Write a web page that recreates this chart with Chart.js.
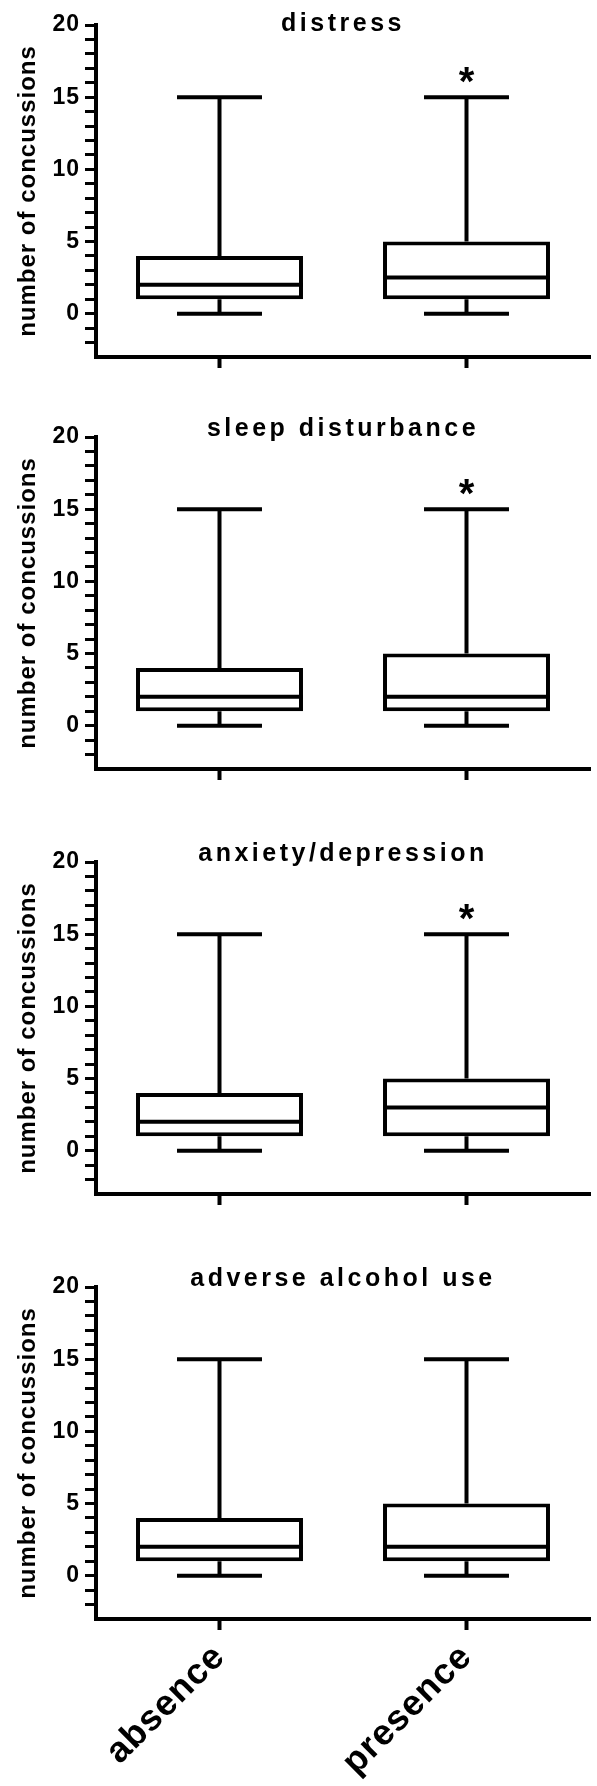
<!DOCTYPE html>
<html>
<head>
<meta charset="utf-8">
<script src="https://cdn.jsdelivr.net/npm/chart.js@4.4.1/dist/chart.umd.min.js"></script>
<style>
html,body{margin:0;padding:0;background:#fff;overflow:hidden;}
body{width:597px;height:1786px;position:relative;}
canvas{position:absolute;left:0;}
</style>
</head>
<body>

<canvas id="c0" width="597" height="376" style="top:-2px"></canvas>
<canvas id="c1" width="597" height="376" style="top:410px"></canvas>
<canvas id="c2" width="597" height="376" style="top:835px"></canvas>
<canvas id="c3" width="597" height="526" style="top:1260px"></canvas>

<script>

/* -------- DATA -------- */

const panelTitles = ["distress", "sleep disturbance", "anxiety/depression", "adverse alcohol use"];

const groups = ["absence", "presence"];

const whiskerLow  = [[0, 0], [0, 0], [0, 0], [0, 0]];
const quartile1   = [[1, 1], [1, 1], [1, 1], [1, 1]];
const medians     = [[2, 2.5], [2, 2], [2, 3], [2, 2]];
const quartile3   = [[4, 5], [4, 5], [4, 5], [4, 5]];
const whiskerHigh = [[15, 15], [15, 15], [15, 15], [15, 15]];

const significant = [[false, true], [false, true], [false, true], [false, false]];

const yMin = -3;
const yMax = 20;
const yLabelStep = 5;

const yTitle = "number of concussions";


/* -------- LAYOUT -------- */

const AREA_TOP = 27;
const AREA_H = 332;
const AXIS_W = 96;
const titlePad = [
{top: 14, bottom: -12},
{top: 7, bottom: -5},
{top: 7, bottom: -5},
{top: 7, bottom: -5}
];

Chart.defaults.font.family = "'Liberation Sans', Arial, sans-serif";
Chart.defaults.color = "#000";


/* -------- BOX PLOT PLUGIN -------- */

const boxPlot = {

id: "boxPlot",

beforeDraw(chart){
// chart title gets a little spacing, like the original
chart.ctx.letterSpacing = "3.5px";
},

beforeDatasetsDraw(chart){
chart.ctx.letterSpacing = "0px";
},

afterDatasetsDraw(chart, args, opts){

const k = opts.panel;
const ctx = chart.ctx;
const x = chart.scales.x;
const y = chart.scales.y;
const meta = chart.getDatasetMeta(0);
const capHalf = (x.width / groups.length) * 0.344 / 2;

ctx.save();
ctx.strokeStyle = "#000";
ctx.lineWidth = 4;
ctx.lineCap = "butt";

meta.data.forEach((bar, i) => {

const cx = x.getPixelForValue(i);
const half = bar.width / 2;

ctx.beginPath();

// median
ctx.moveTo(cx - half, y.getPixelForValue(medians[k][i]));
ctx.lineTo(cx + half, y.getPixelForValue(medians[k][i]));

// whiskers
ctx.moveTo(cx, y.getPixelForValue(quartile3[k][i]));
ctx.lineTo(cx, y.getPixelForValue(whiskerHigh[k][i]));
ctx.moveTo(cx, y.getPixelForValue(quartile1[k][i]));
ctx.lineTo(cx, y.getPixelForValue(whiskerLow[k][i]));

// caps
ctx.moveTo(cx - capHalf, y.getPixelForValue(whiskerHigh[k][i]));
ctx.lineTo(cx + capHalf, y.getPixelForValue(whiskerHigh[k][i]));
ctx.moveTo(cx - capHalf, y.getPixelForValue(whiskerLow[k][i]));
ctx.lineTo(cx + capHalf, y.getPixelForValue(whiskerLow[k][i]));

ctx.stroke();

if(significant[k][i]){
ctx.fillStyle = "#000";
ctx.font = "bold 40px 'Liberation Sans', Arial, sans-serif";
ctx.textAlign = "center";
ctx.textBaseline = "alphabetic";
ctx.fillText("*", cx, y.getPixelForValue(whiskerHigh[k][i]) - 2);
}

});

ctx.restore();

// axis titles and tick labels are drawn after this
ctx.letterSpacing = "1px";

},

afterDraw(chart){
chart.ctx.letterSpacing = "0px";
}

};


/* -------- CHARTS -------- */

function drawPanel(k){

const canvas = document.getElementById("c" + k);
const xAxisH = canvas.height - AREA_TOP - AREA_H;
const lastPanel = k === panelTitles.length - 1;

new Chart(canvas, {

type: "bar",

data: {
labels: groups,
datasets: [{
data: groups.map((g, i) => [quartile1[k][i], quartile3[k][i]]),
backgroundColor: "#fff",
borderColor: "#000",
borderWidth: 4,
borderSkipped: false,
barPercentage: 0.676,
categoryPercentage: 1
}]
},

options: {
responsive: false,
animation: false,
events: [],
layout: {padding: {left: 0, right: 7, top: 0, bottom: 0}},
plugins: {
legend: {display: false},
tooltip: {enabled: false},
title: {
display: true,
text: panelTitles[k],
fullSize: false,
color: "#000",
font: {size: 25, weight: "bold", lineHeight: 1},
padding: titlePad[k]
},
boxPlot: {panel: k}
},
scales: {
x: {
offset: true,
grid: {
offset: false,
drawOnChartArea: false,
tickLength: 11,
tickWidth: 4,
tickColor: "#000"
},
border: {display: true, width: 4, color: "#000"},
ticks: {
display: lastPanel,
z: 1,
color: "#000",
padding: 6,
minRotation: 45,
maxRotation: 45,
font: {size: 36, weight: "bold"}
},
afterFit(scale){ scale.height = xAxisH; }
},
y: {
min: yMin,
max: yMax,
grid: {
drawOnChartArea: false,
z: 1,
tickLength: 11,
tickWidth: 3,
tickColor: c => (c.tick && c.tick.value === yMin) ? "rgba(0,0,0,0)" : "#000"
},
// border after the grid layer, so its position is known
border: {display: true, width: 4, color: "#000", z: 1},
ticks: {
stepSize: 1,
autoSkip: false,
maxTicksLimit: 40,
z: 1,
padding: 5,
color: "#000",
font: {size: 23, weight: "bold", lineHeight: 1},
callback: v => (v >= 0 && v % yLabelStep === 0) ? String(v) : ""
},
title: {
display: true,
text: yTitle,
color: "#000",
font: {size: 24, weight: "bold"},
padding: {top: 14, bottom: 0}
},
afterFit(scale){ scale.width = AXIS_W; }
}
}
},

plugins: [boxPlot]

});

}

panelTitles.forEach((t, k) => drawPanel(k));

</script>
</body>
</html>
